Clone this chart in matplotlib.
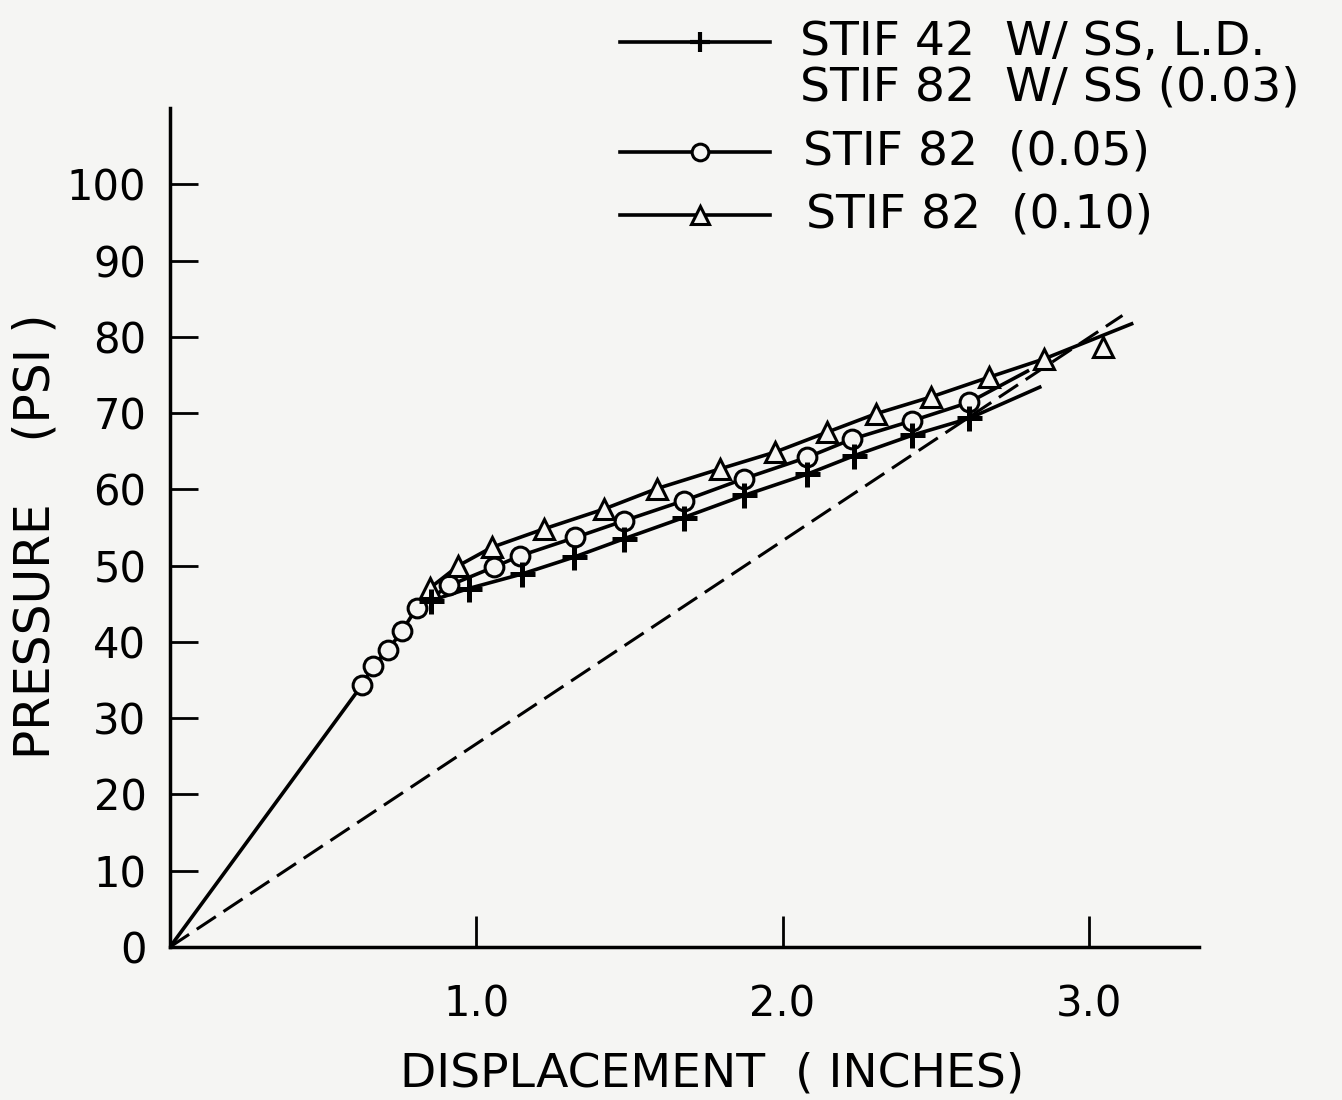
import matplotlib
matplotlib.use("Agg")
import matplotlib.pyplot as plt
from matplotlib.lines import Line2D

# ---- data ----
circ_x = [0.0, 0.626, 0.664, 0.713, 0.757, 0.806, 0.912, 1.057, 1.144, 1.324, 1.484,
          1.677, 1.874, 2.081, 2.228, 2.424, 2.609, 2.80]
circ_y = [0.0, 34.3, 36.9, 39.0, 41.4, 44.5, 47.4, 49.8, 51.3, 53.7, 55.9,
          58.5, 61.4, 64.2, 66.6, 69.0, 71.4, 75.5]

tri_x = [0.806, 0.850, 0.942, 1.051, 1.220, 1.416, 1.590, 1.797, 1.977, 2.146, 2.304,
         2.484, 2.674, 2.854, 3.14]
tri_y = [44.5, 47.1, 50.0, 52.4, 54.8, 57.4, 60.1, 62.7, 64.9, 67.5, 69.9,
         72.1, 74.7, 77.1, 81.7]
tri_extra_x = [3.045]
tri_extra_y = [78.7]

plus_x = [0.806, 0.852, 0.975, 1.149, 1.318, 1.481, 1.677, 1.874, 2.081, 2.233, 2.424,
          2.609, 2.84]
plus_y = [44.5, 45.4, 47.0, 48.9, 51.1, 53.5, 56.3, 59.2, 62.0, 64.4, 67.1,
          69.3, 73.4]

dash_x = [0.0, 3.11]
dash_y = [0.0, 82.8]

yticks = [0, 10, 20, 30, 40, 50, 60, 70, 80, 90, 100]
xticks = [1.0, 2.0, 3.0]
xticklabels = ["1.0", "2.0", "3.0"]

legend_labels = ["STIF 42  W/ SS, L.D.", "STIF 82  W/ SS (0.03)",
                 "STIF 82  (0.05)", "STIF 82  (0.10)"]

# ---- figure ----
plt.rcParams['font.family'] = ['DejaVu Sans']
W, H = 1342, 1100
BG = "#f5f5f3"
fig = plt.figure(figsize=(W / 100, H / 100), dpi=100)
fig.patch.set_facecolor(BG)
ax = fig.add_axes([170 / W, 1 - 947 / H, (1199 - 170) / W, (947 - 108) / H])
ax.set_facecolor("none")

lw = 2.6
mk = dict(markerfacecolor=BG, markeredgecolor="black", markeredgewidth=2.2)

ax.plot(dash_x, dash_y, color="black", lw=2.2, ls=(0, (7.5, 3.0)))
ax.plot(circ_x[:-1], circ_y[:-1], color="black", lw=lw, marker="o", markersize=13.5,
        markevery=slice(1, None), **mk)
ax.plot(circ_x[-2:], circ_y[-2:], color="black", lw=lw, zorder=1)
ax.plot(tri_x, tri_y, color="black", lw=lw, zorder=1)
ax.plot(tri_x[1:-1], tri_y[1:-1], color="black", lw=0, marker="^", markersize=15, **mk)
ax.plot(tri_extra_x, tri_extra_y, color="black", lw=0, marker="^", markersize=15, **mk)
ax.plot(plus_x, plus_y, color="black", lw=lw, zorder=1)
ax.plot(plus_x[1:-1], plus_y[1:-1], color="black", lw=0, marker="+", markersize=18,
        markeredgewidth=3.6)

ax.set_xlim(0, 3.36)
ax.set_ylim(0, 110)
for s in ["top", "right"]:
    ax.spines[s].set_visible(False)
for s in ["left", "bottom"]:
    ax.spines[s].set_linewidth(2.5)

ax.set_yticks(yticks)
ax.set_yticklabels([str(v) for v in yticks])
ax.set_xticks(xticks)
ax.set_xticklabels(xticklabels)
ax.tick_params(axis="y", direction="in", length=20, width=2.0, pad=17, labelsize=30)
ax.tick_params(axis="x", direction="in", length=22, width=2.0, pad=26, labelsize=30)

ax.set_xlabel("DISPLACEMENT  ( INCHES)", fontsize=34)
ax.xaxis.set_label_coords(0.527, -0.125)
ax.set_ylabel("PRESSURE    (PSI )", fontsize=35, va="center")
ax.yaxis.set_label_coords(-0.131, 0.49)

# ---- legend (drawn manually in figure coordinates) ----
rows_y = [42, 88, 152, 215]
handles = [("+", 14, 3.0), None, ("o", 12, 2.2), ("^", 13, 2.2)]
text_x = [800, 800, 803, 806]
for lab, ry, h, tx in zip(legend_labels, rows_y, handles, text_x):
    fy = 1 - ry / H
    if h is not None:
        m, ms, mew = h
        fig.add_artist(Line2D([620 / W, 770 / W], [fy, fy], color="black", lw=lw))
        fig.add_artist(Line2D([700 / W], [fy], color="black", lw=0, marker=m,
                              markersize=ms, markeredgewidth=mew,
                              markerfacecolor=BG, markeredgecolor="black"))
    fig.text(tx / W, fy, lab, fontsize=34, ha="left", va="center")

fig.savefig("out.png", dpi=100, facecolor=fig.get_facecolor())
